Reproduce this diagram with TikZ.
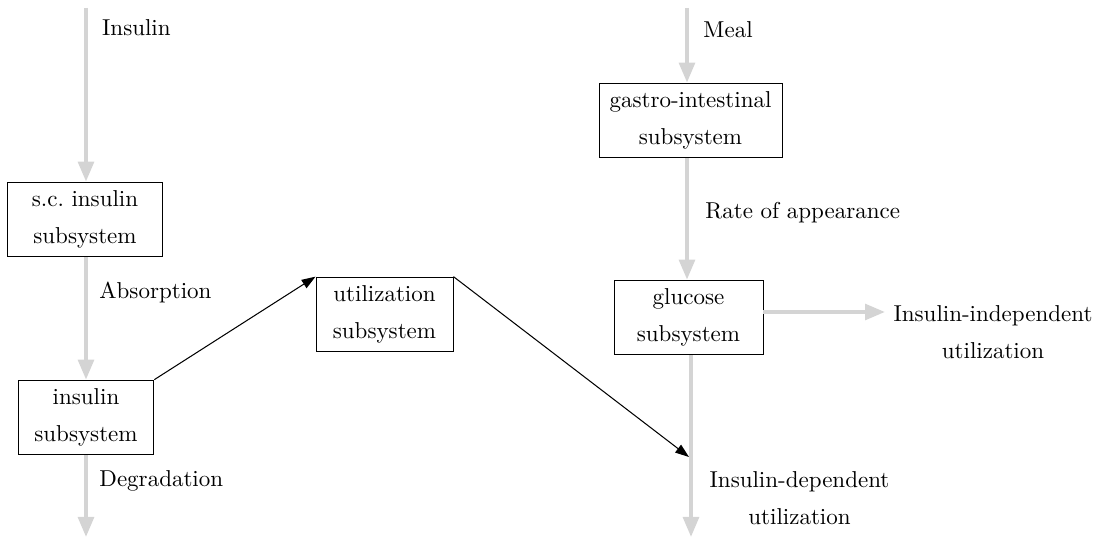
\documentclass[tikz,border=0pt]{standalone}
\usepackage{tikz}
\usetikzlibrary{arrows.meta,positioning}

\tikzset{
  sub/.style={draw, align=center, minimum height=32.5pt, inner sep=3pt,
    font=\fontsize{10}{16}\selectfont},
  flow/.style={draw=black!17, line width=1.7pt,
    -{Triangle[length=8.7pt,width=6.8pt]}},
  ctrl/.style={draw=black, line width=0.45pt,
    -{Triangle[length=6pt,width=4.2pt]}},
  lbl/.style={inner sep=0pt, align=center, font=\fontsize{10}{16}\selectfont}
}

\begin{document}
\begin{tikzpicture}[x=0.4348pt, y=-0.4348pt]
\useasboundingbox (0,0) rectangle (1099,537);

% insulin side
\node[sub, minimum width=67pt] (sc) at (85,219.5) {s.c.\ insulin\\subsystem};
\node[sub, minimum width=59pt] (ins) at (86,417.5) {insulin\\subsystem};
\node[sub, minimum width=59.6pt] (util) at (384.5,314.5) {utilization\\subsystem};

% glucose side
\node[sub, minimum width=79.6pt] (gastro) at (690.5,120.5) {gastro-intestinal\\subsystem};
\node[sub, minimum width=64.8pt] (gluc) at (688.5,317.5) {glucose\\subsystem};

% free ends
\coordinate (insin) at (86,8);
\coordinate (insout) at (86,537);
\coordinate (mealin) at (687,8);
\coordinate (indep) at (885,312);
\coordinate (depout) at (691,537);
\coordinate (dep) at (689,457);

% flows
\draw[flow] (insin) -- (sc.north -| insin);
\draw[flow] (sc.south -| insin) -- (ins.north -| insin);
\draw[flow] (ins.south -| insin) -- (insout);
\draw[flow] (mealin) -- (gastro.north -| mealin);
\draw[flow] (gastro.south -| mealin) -- (gluc.north -| mealin);
\draw[flow] (gluc.east |- indep) -- (indep);
\draw[flow] (gluc.south -| depout) -- (depout);

% insulin action
\draw[ctrl] (ins.north east) -- (util.north west);
\draw[ctrl] (util.north east) -- (dep);

% labels
\node[lbl, anchor=west] (lins) at (101.7,28) {Insulin};
\node[lbl, anchor=west] (labs) at (99,293) {Absorption};
\node[lbl, anchor=west] (ldeg) at (99,481) {Degradation};
\node[lbl, anchor=west] (lmeal) at (703,30) {Meal};
\node[lbl, anchor=west] (lra) at (705,213) {Rate of appearance};
\node[lbl] (lindep) at (993,332.5) {Insulin-independent\\utilization};
\node[lbl] (ldep) at (799.5,498.5) {Insulin-dependent\\utilization};
\end{tikzpicture}
\end{document}
